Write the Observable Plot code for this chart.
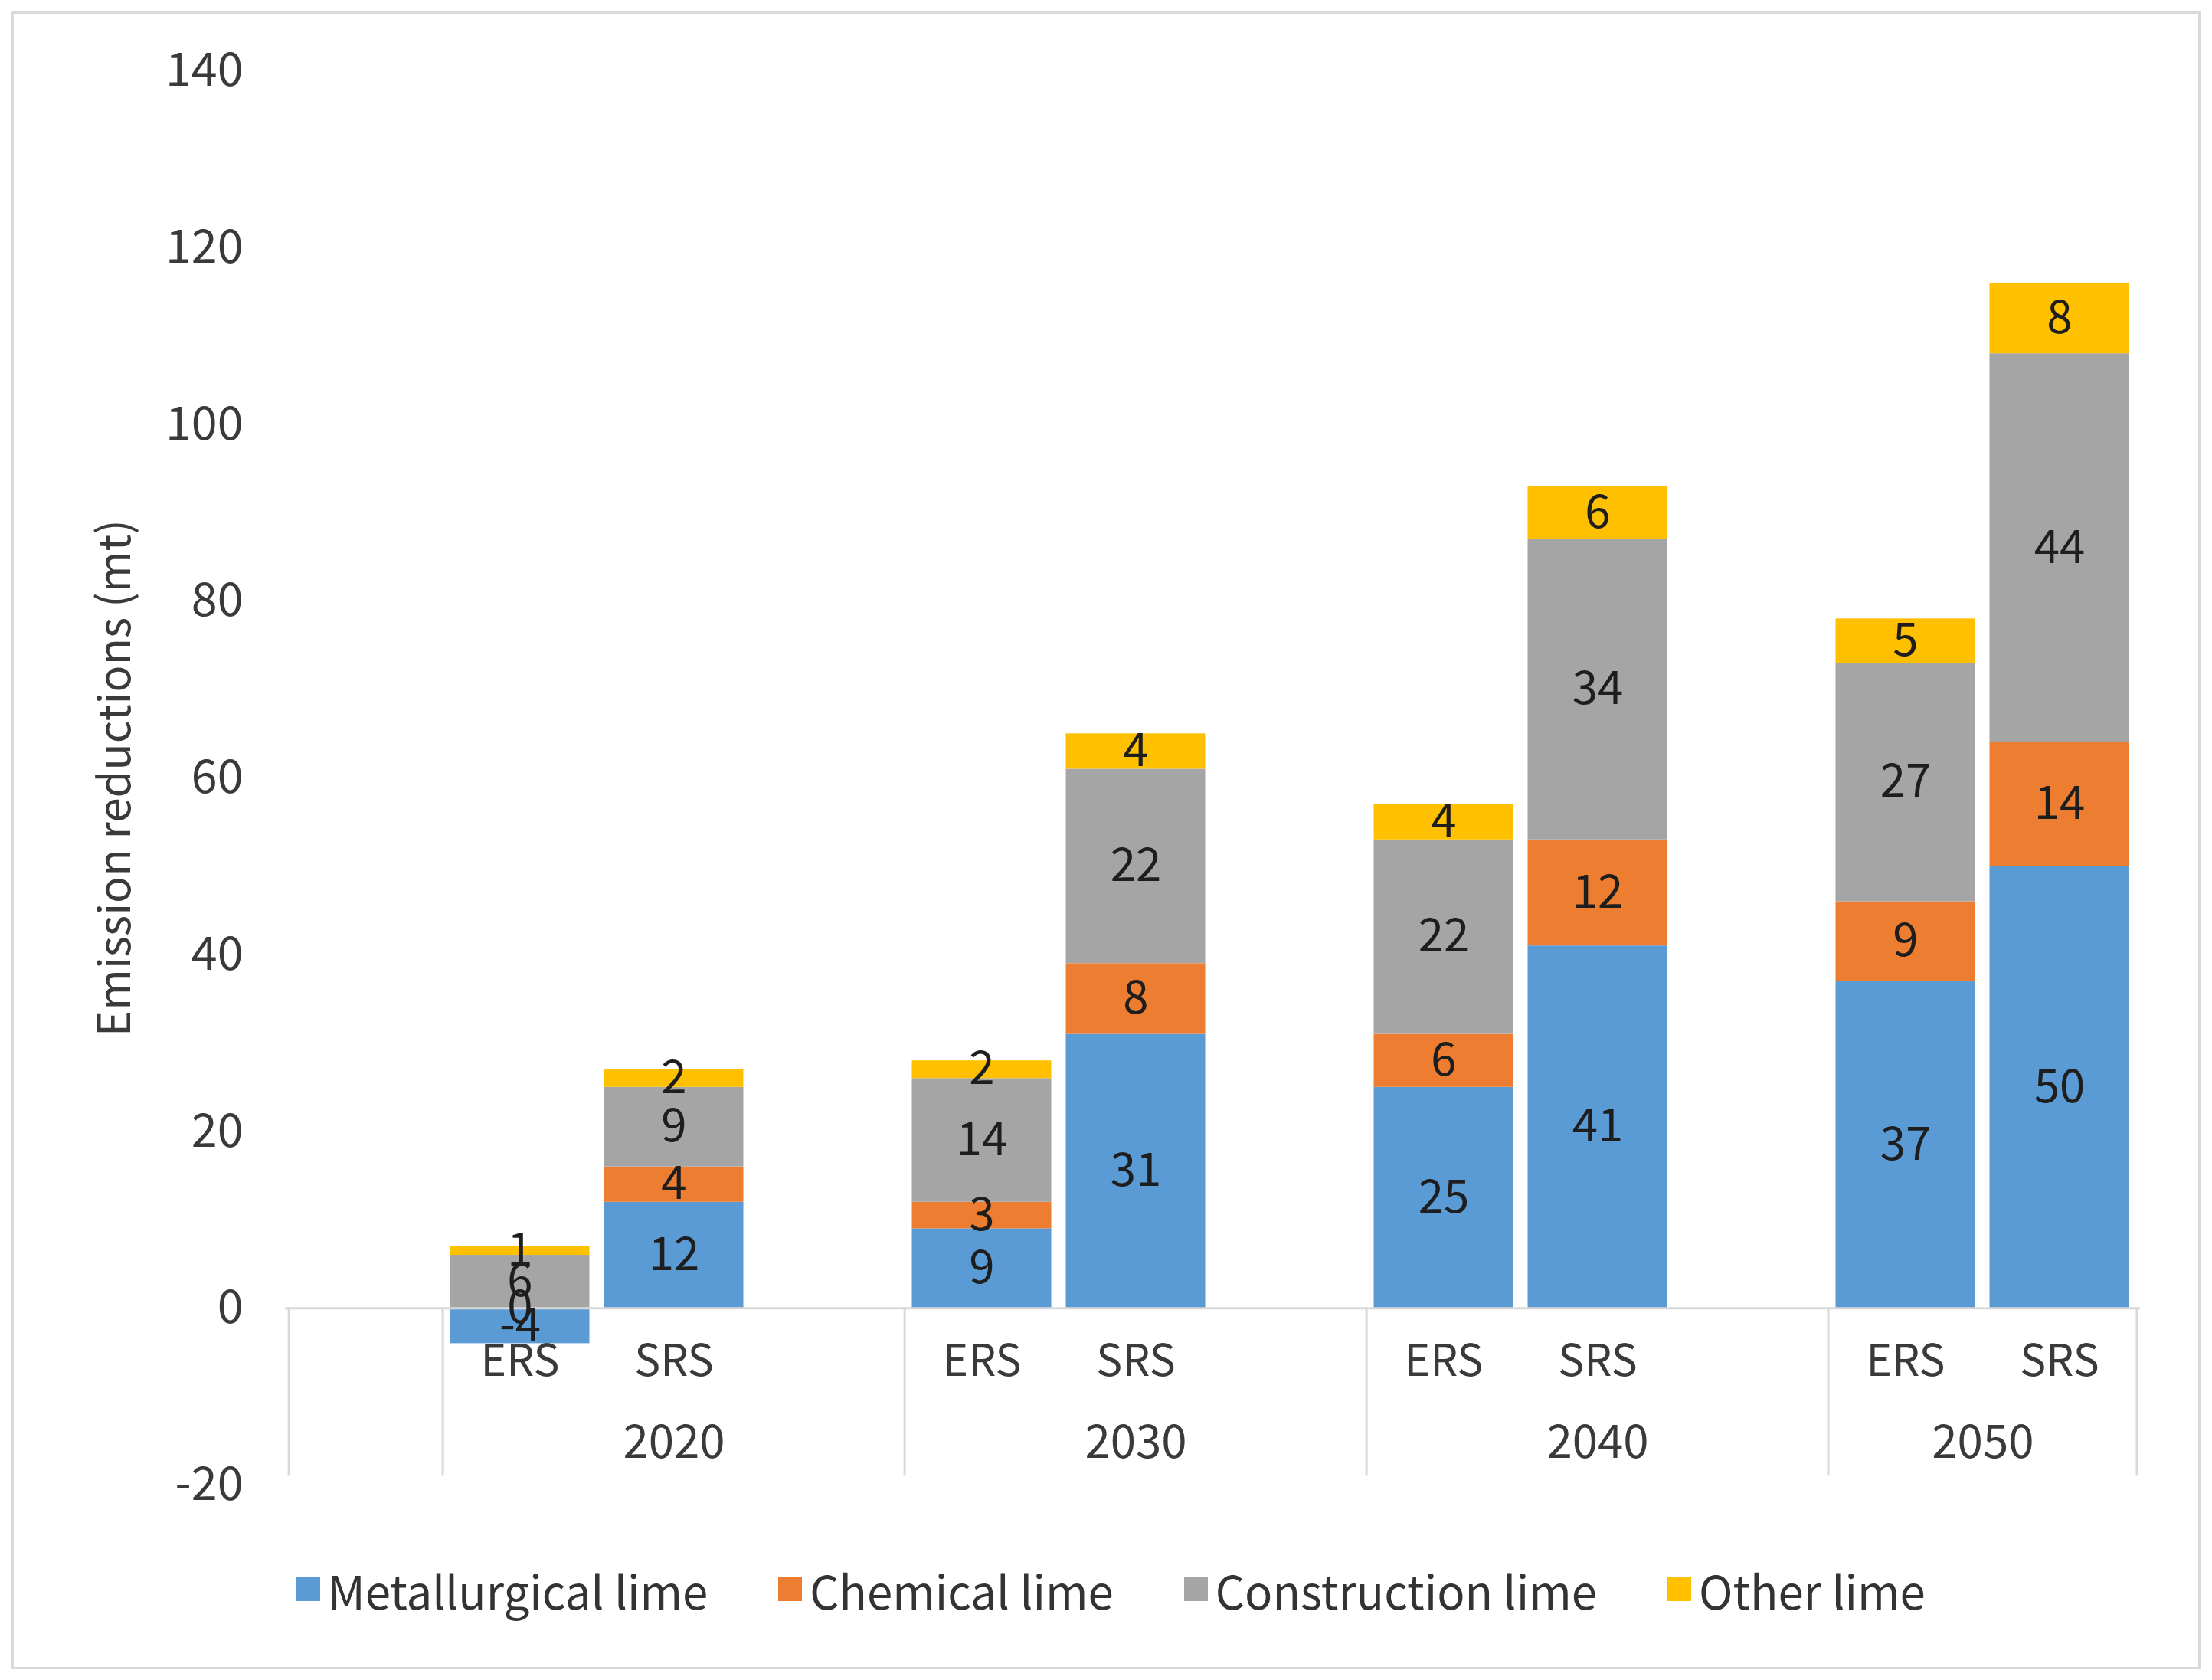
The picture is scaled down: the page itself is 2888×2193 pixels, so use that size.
<!DOCTYPE html>
<html>
<head>
<meta charset="utf-8">
<script src="https://cdn.jsdelivr.net/npm/d3@7"></script>
<script src="https://cdn.jsdelivr.net/npm/@observablehq/plot@0.6"></script>
<style>
  html, body { margin: 0; padding: 0; background: #fff; }
  body { width: 2888px; height: 2193px; position: relative; overflow: hidden; font-family: "Noto Sans CJK SC", "Noto Sans", sans-serif; }
  #frame { position: absolute; left: 15px; top: 15px; width: 2858px; height: 2164px; border: 3px solid #d9d9d9; box-sizing: border-box; }
  #chart { position: absolute; left: 0; top: 0; }
  #legend { position: absolute; left: 387px; top: 2034px; height: 80px; display: flex; align-items: center; gap: 92px; font-size: 60px; color: #333; white-space: nowrap; }
  .item { display: flex; align-items: center; }
  .sw { width: 31px; height: 31px; margin-right: 10px; }
</style>
</head>
<body>
<div id="frame"></div>
<div id="chart"></div>
<div id="legend"></div>
<script>
// ---- data ----
const years = ["2020", "2030", "2040", "2050"];
const scenarios = ["ERS", "SRS"];
const types = ["Metallurgical lime", "Chemical lime", "Construction lime", "Other lime"];
const colors = ["#5B9BD5", "#ED7D31", "#A5A5A5", "#FFC000"];
// order: 2020 ERS, 2020 SRS, 2030 ERS, 2030 SRS, 2040 ERS, 2040 SRS, 2050 ERS, 2050 SRS
const metallurgical = [-4, 12, 9, 31, 25, 41, 37, 50];
const chemical      = [0, 4, 3, 8, 6, 12, 9, 14];
const construction  = [6, 9, 14, 22, 22, 34, 27, 44];
const other         = [1, 2, 2, 4, 4, 6, 5, 8];
const yTicks = [-20, 0, 20, 40, 60, 80, 100, 120, 140];
const yLabel = "Emission reductions (mt)";

// ---- build table ----
const series = [metallurgical, chemical, construction, other];
const rows = [];
years.forEach((yr, i) => {
  scenarios.forEach((sc, j) => {
    const k = i * scenarios.length + j;
    types.forEach((t, ti) => {
      rows.push({slot: `${yr} ${sc}`, year: yr, scenario: sc, type: t, value: series[ti][k]});
    });
  });
});

// category slots: leading blank, then ERS, SRS, blank per year (no trailing blank after last)
const slots = ["pad"];
years.forEach((yr, i) => {
  scenarios.forEach(sc => slots.push(`${yr} ${sc}`));
  if (i < years.length - 1) slots.push(`${yr} gap`);
});

const W = 2888, H = 2010;
const mL = 372, mR = 94, mT = 92, mB = 72;
const step = (W - mL - mR) / slots.length;

const scenLabels = [];
years.forEach(yr => scenarios.forEach(sc => scenLabels.push({slot: `${yr} ${sc}`, text: sc})));
const yearLabelsMid = years.slice(0, -1).map(yr => ({slot: `${yr} SRS`, text: yr}));
const yearLabelLast = [{slot: `${years[years.length-1]} ERS`, text: years[years.length-1]}];
const leftEdges = ["pad", ...years.map(yr => `${yr} ERS`)];
const rightEdges = [`${years[years.length-1]} SRS`];
const axisDepth = -19;

const font = "'Noto Sans CJK SC', 'Noto Sans', sans-serif";
const axisColor = "#3a3a3a";

const plot = Plot.plot({
  width: W,
  height: H,
  marginLeft: mL,
  marginRight: mR,
  marginTop: mT,
  marginBottom: mB,
  style: {fontFamily: font, fontSize: "58px", color: axisColor, background: "transparent"},
  x: {type: "band", domain: slots, padding: 0, axis: null},
  y: {domain: [-20, 140], axis: null},
  color: {domain: types, range: colors},
  marks: [
    Plot.barY(rows, Plot.stackY({x: "slot", y: "value", z: "type", fill: "type", insetLeft: 9.5, insetRight: 9.5})),
    Plot.ruleY([0], {stroke: "#d9d9d9", strokeWidth: 3}),
    Plot.ruleX(leftEdges, {x: d => d, y1: 0, y2: axisDepth, dx: -step / 2, stroke: "#d9d9d9", strokeWidth: 3}),
    Plot.ruleX(rightEdges, {x: d => d, y1: 0, y2: axisDepth, dx: step / 2, stroke: "#d9d9d9", strokeWidth: 3}),
    Plot.text(rows, Plot.stackY({x: "slot", y: "value", z: "type", text: d => String(d.value), fill: "#1e1e1e", fontSize: 60})),
    Plot.text(scenLabels, {x: "slot", y: 0, text: "text", dy: 70, fill: axisColor, fontSize: 57}),
    Plot.text(yearLabelsMid, {x: "slot", y: 0, text: "text", dy: 176, fill: axisColor, fontSize: 60}),
    Plot.text(yearLabelLast, {x: "slot", y: 0, text: "text", dy: 176, dx: step / 2, fill: axisColor, fontSize: 60}),
    Plot.axisY({ticks: yTicks, tickSize: 0, tickPadding: 55, tickFormat: d => String(d), fontSize: 61, fill: axisColor, label: null}),
    Plot.text([yLabel], {frameAnchor: "left", textAnchor: "middle", text: d => d, rotate: -90, dx: -221, fill: axisColor, fontSize: 58})
  ]
});
document.getElementById("chart").appendChild(plot);

const legend = document.getElementById("legend");
types.forEach((t, i) => {
  const it = document.createElement("div");
  it.className = "item";
  const sw = document.createElement("div");
  sw.className = "sw";
  sw.style.background = colors[i];
  const tx = document.createElement("span");
  tx.textContent = t;
  it.appendChild(sw);
  it.appendChild(tx);
  legend.appendChild(it);
});
</script>
</body>
</html>
